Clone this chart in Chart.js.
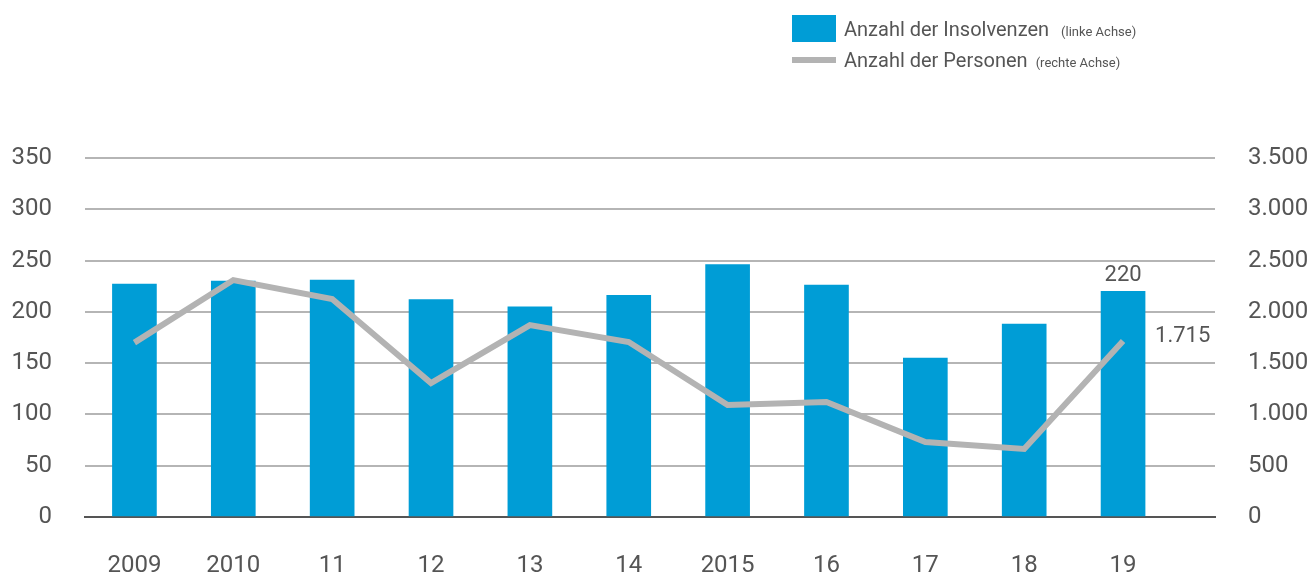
<!DOCTYPE html>
<html>
<head>
<title>Insolvenzen</title>
<script src="https://cdn.jsdelivr.net/npm/chart.js@4.4.1/dist/chart.umd.min.js"></script>
<style>
  body { margin: 0; background: #fff; font-family: Roboto, sans-serif; }
  .wrap { position: relative; width: 1312px; height: 577px; }
  .legend { position: absolute; left: 792px; top: 13px; color: #555; }
  .legend .row { display: flex; align-items: center; height: 31px; }
  .legend .swatch { width: 44px; height: 27px; background: #009dd6; margin-right: 8px; }
  .legend .stroke { width: 44px; height: 6px; background: #b3b3b3; margin-right: 8px; }
  .legend .text { display: flex; align-items: baseline; }
  .legend .main { font-size: 20px; }
  .legend .small { font-size: 13px; }
</style>
</head>
<body>
<div class="wrap">
  <div class="legend">
    <div class="row"><span class="swatch"></span><span class="text"><span class="main">Anzahl der Insolvenzen</span><span class="small" style="margin-left:12px">(linke Achse)</span></span></div>
    <div class="row"><span class="stroke"></span><span class="text"><span class="main">Anzahl der Personen</span><span class="small" style="margin-left:8px">(rechte Achse)</span></span></div>
  </div>
  <canvas id="myChart" width="1312" height="577"></canvas>
</div>
<script>
    var years = ['2009', '2010', '11', '12', '13', '14', '2015', '16', '17', '18', '19'];
    var insolvenzen = [227, 230, 231, 212, 205, 216, 246, 226, 155, 188, 220];
    var personen = [1700, 2310, 2125, 1306, 1871, 1706, 1092, 1121, 731, 663, 1715];
    var leftTicks = [0, 50, 100, 150, 200, 250, 300, 350];
    var rightTicks = [0, 500, 1000, 1500, 2000, 2500, 3000, 3500];

    var tickFont = { family: 'Roboto', size: 24 };
    var textColor = '#555';

    function toPoints(values) {
        return values.map(function (v, i) { return { x: i, y: v }; });
    }

    // value labels on the last bar and the last line point
    var lastValues = {
        id: 'lastValues',
        afterDatasetsDraw: function (chart) {
            var ctx = chart.ctx;
            var bar = chart.getDatasetMeta(0).data[years.length - 1];
            var pt = chart.getDatasetMeta(1).data[years.length - 1];
            ctx.save();
            ctx.fillStyle = textColor;
            ctx.font = '22px Roboto';
            ctx.textAlign = 'center';
            ctx.textBaseline = 'bottom';
            ctx.fillText(insolvenzen[years.length - 1], bar.x, bar.y - 5);
            ctx.textAlign = 'left';
            ctx.textBaseline = 'middle';
            ctx.fillText(personen[years.length - 1].toLocaleString('de-DE'), pt.x + 32, pt.y - 5);
            ctx.restore();
        }
    };

    var ctx = document.getElementById('myChart').getContext('2d');
    var chart = new Chart(ctx, {
        data: {
            datasets: [
                {
                    type: 'bar',
                    label: 'Anzahl der Insolvenzen',
                    data: toPoints(insolvenzen),
                    backgroundColor: '#009dd6',
                    barThickness: 44,
                    yAxisID: 'y',
                    order: 2
                },
                {
                    type: 'line',
                    label: 'Anzahl der Personen',
                    data: toPoints(personen),
                    borderColor: '#b3b3b3',
                    borderWidth: 6,
                    pointRadius: 0,
                    tension: 0,
                    yAxisID: 'y1',
                    order: 1
                }
            ]
        },
        options: {
            responsive: false,
            animation: false,
            layout: { padding: { top: 158, right: 0, left: 0, bottom: 0 } },
            plugins: { legend: { display: false }, tooltip: { enabled: false } },
            scales: {
                x: {
                    type: 'linear',
                    offset: false,
                    min: -0.5,
                    max: 10.93,
                    afterBuildTicks: function (scale) {
                        scale.ticks = years.map(function (_, i) { return { value: i }; });
                    },
                    afterFit: function (scale) { scale.height = 60; },
                    grid: { display: false, drawTicks: false },
                    border: { display: true, color: '#555', width: 2 },
                    ticks: {
                        autoSkip: false,
                        maxRotation: 0,
                        padding: 35,
                        color: textColor,
                        font: tickFont,
                        callback: function (v) { return years[v]; }
                    }
                },
                y: {
                    position: 'left',
                    min: 0,
                    max: 350,
                    afterBuildTicks: function (scale) {
                        scale.ticks = leftTicks.map(function (v) { return { value: v }; });
                    },
                    afterFit: function (scale) { scale.width = 85; },
                    grid: {
                        drawTicks: false,
                        lineWidth: 2,
                        color: function (c) { return c.tick && c.tick.value === 0 ? 'rgba(0,0,0,0)' : '#b5b5b5'; }
                    },
                    border: { display: false },
                    ticks: { padding: 33, color: textColor, font: tickFont }
                },
                y1: {
                    position: 'right',
                    min: 0,
                    max: 3500,
                    afterBuildTicks: function (scale) {
                        scale.ticks = rightTicks.map(function (v) { return { value: v }; });
                    },
                    afterFit: function (scale) { scale.width = 97; },
                    grid: { display: false, drawTicks: false },
                    border: { display: false },
                    ticks: {
                        padding: 33,
                        color: textColor,
                        font: tickFont,
                        callback: function (v) { return v.toLocaleString('de-DE'); }
                    }
                }
            }
        },
        plugins: [lastValues]
    });
</script>
</body>
</html>
